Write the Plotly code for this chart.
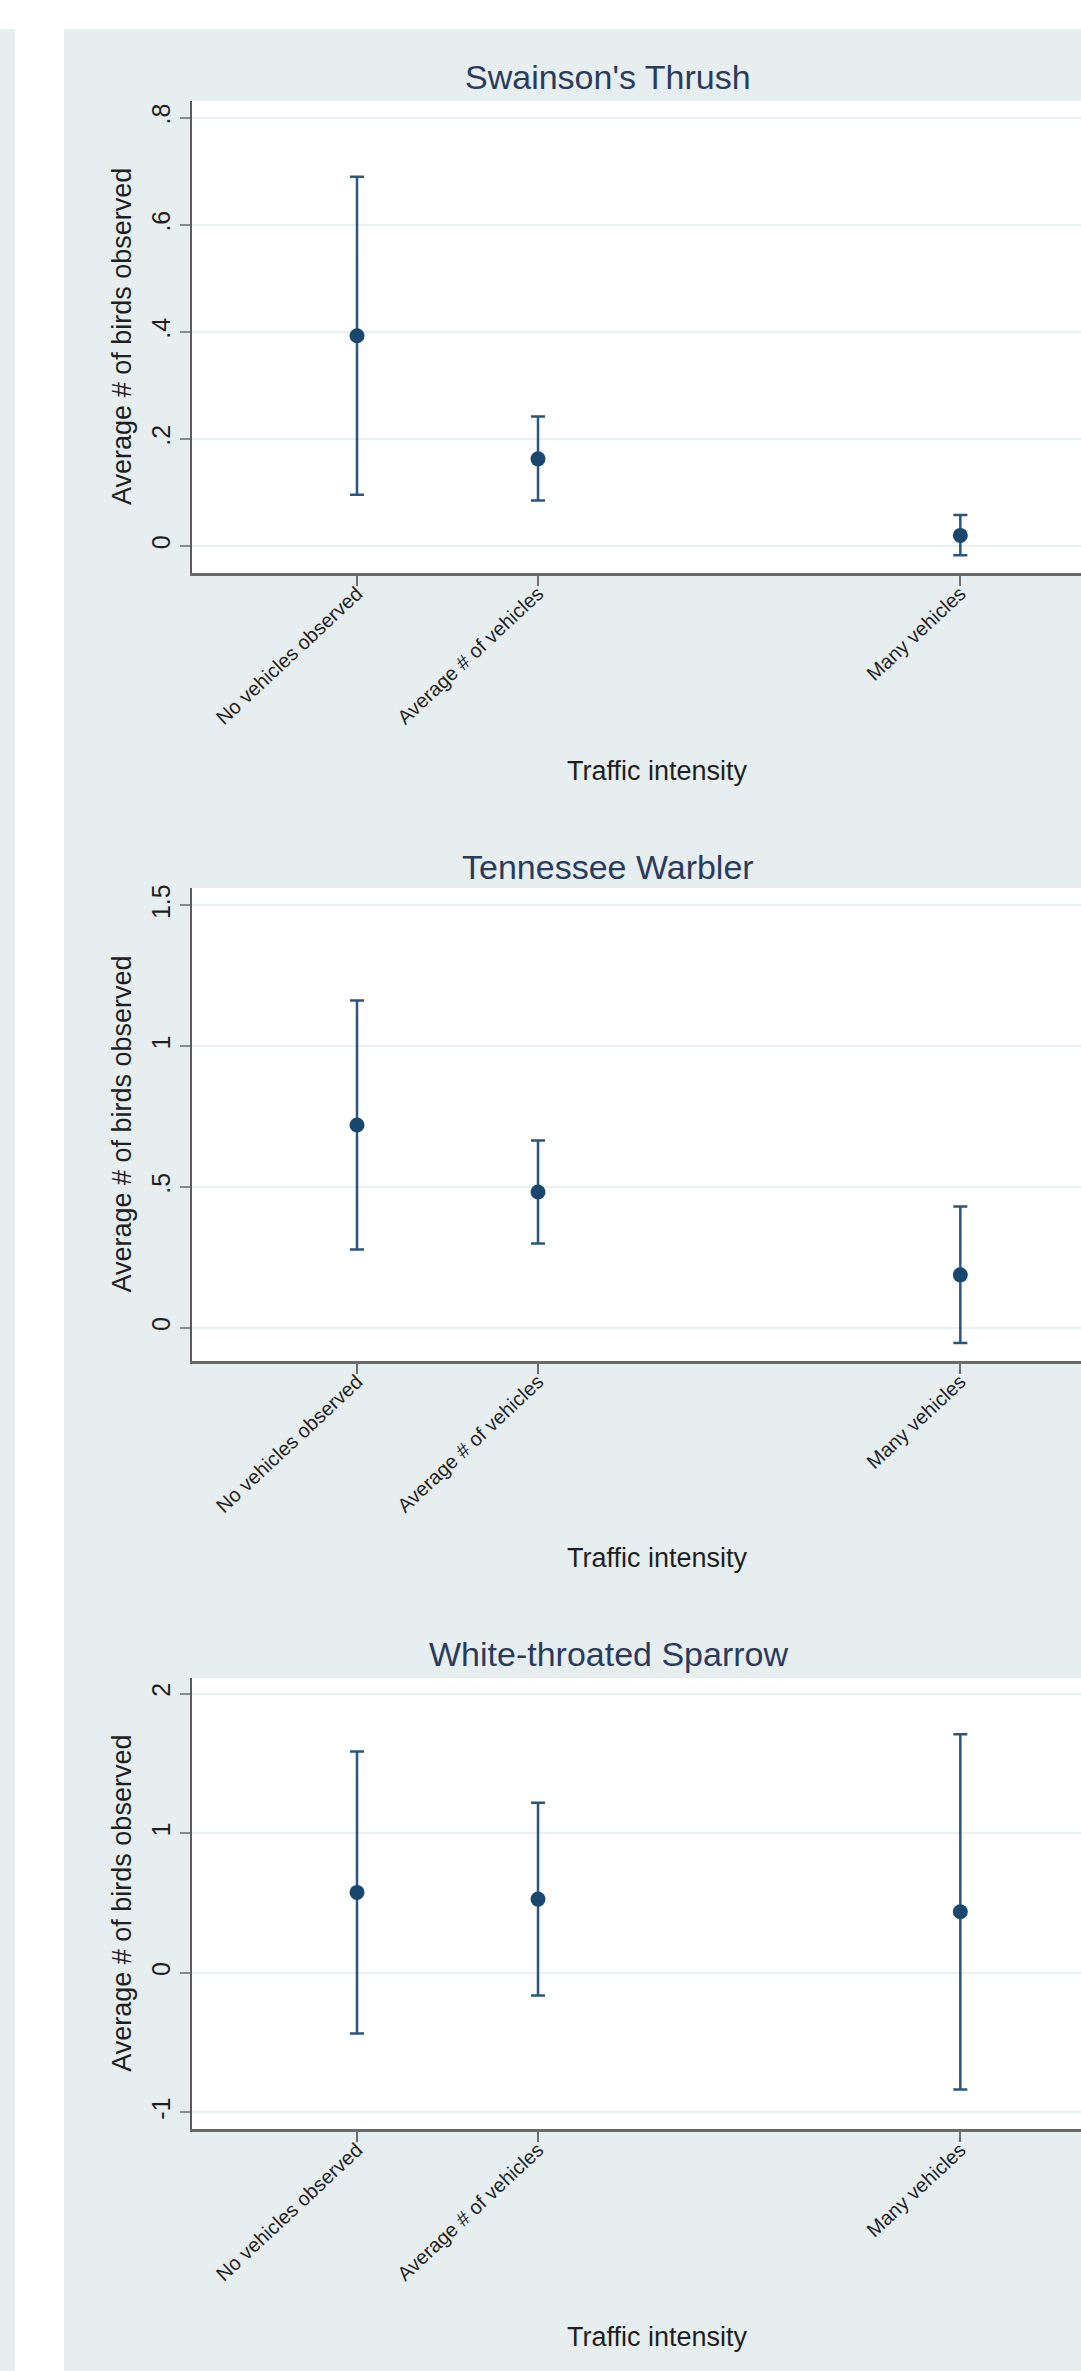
import plotly.graph_objects as go

# ---- data -------------------------------------------------------------
species = ["Swainson's Thrush", "Tennessee Warbler", "White-throated Sparrow"]

traffic_labels = ["No vehicles observed", "Average # of vehicles", "Many vehicles"]
traffic_values = [0, 3, 10]  # vehicles per count

thrush_mean = [0.393, 0.163, 0.020]
thrush_lower = [0.096, 0.085, -0.017]
thrush_upper = [0.690, 0.242, 0.058]

warbler_mean = [0.720, 0.482, 0.188]
warbler_lower = [0.278, 0.299, -0.054]
warbler_upper = [1.162, 0.665, 0.431]

sparrow_mean = [0.576, 0.528, 0.437]
sparrow_lower = [-0.434, -0.163, -0.836]
sparrow_upper = [1.586, 1.219, 1.710]

thrush_ticks = [0, 0.2, 0.4, 0.6, 0.8]
thrush_ticktext = ["0", ".2", ".4", ".6", ".8"]
warbler_ticks = [0, 0.5, 1, 1.5]
warbler_ticktext = ["0", ".5", "1", "1.5"]
sparrow_ticks = [-1, 0, 1, 2]
sparrow_ticktext = ["-1", "0", "1", "2"]

y_title = "Average # of birds observed"
x_title = "Traffic intensity"

# ---- page geometry (pixels) ------------------------------------------
W, H = 1081, 2371


def fx(px):
    return px / W


def fy(px):
    return 1 - px / H


AXIS_LEFT = 192          # y-axis line
X_RANGE = [-2.735, 12.0]  # visible part of the traffic axis

# (plot top, plot bottom, title y, x-title y, y range)
panel_geom = [
    (97, 570, 73, 768, [-0.0503, 0.8317]),
    (885.5, 1359.5, 864, 1557, [-0.1188, 1.562]),
    (1677, 2129, 1653, 2337, [-1.122, 2.111]),
]

FONT = "Liberation Sans, Arial, Helvetica, sans-serif"
NAVY = "#1a476f"
BAR = "#2a5580"
TITLE_C = "#2b3b5c"
TEXT_C = "#1f1f1f"
BG = "#e7eef0"
GRID = "#e9f0f3"

series = [
    (thrush_mean, thrush_lower, thrush_upper, thrush_ticks, thrush_ticktext),
    (warbler_mean, warbler_lower, warbler_upper, warbler_ticks, warbler_ticktext),
    (sparrow_mean, sparrow_lower, sparrow_upper, sparrow_ticks, sparrow_ticktext),
]

fig = go.Figure()
layout = dict(
    width=W,
    height=H,
    autosize=False,
    margin=dict(l=0, r=0, t=0, b=0),
    paper_bgcolor=BG,
    plot_bgcolor="white",
    showlegend=False,
    font=dict(family=FONT, color=TEXT_C),
    annotations=[],
    shapes=[
        # white margin above the graph and the white gutter on the left
        dict(type="rect", xref="paper", yref="paper", x0=-0.01, x1=1.01,
             y0=fy(25), y1=1.01, fillcolor="white", line=dict(width=0), layer="below"),
        dict(type="rect", xref="paper", yref="paper", x0=fx(15), x1=fx(64),
             y0=-0.01, y1=fy(25), fillcolor="white", line=dict(width=0), layer="below"),
    ],
)

for i, (name, (mean, lo, hi, tv, tt), geom) in enumerate(zip(species, series, panel_geom)):
    top, bottom, title_y, xt_y, yr = geom
    n = "" if i == 0 else str(i + 1)
    xa, ya = "x" + n, "y" + n

    fig.add_trace(go.Scatter(
        x=traffic_values,
        y=mean,
        mode="markers",
        marker=dict(color=NAVY, size=15),
        error_y=dict(
            type="data",
            symmetric=False,
            array=[h - m for h, m in zip(hi, mean)],
            arrayminus=[m - l for m, l in zip(mean, lo)],
            color=BAR,
            thickness=2.5,
            width=7,
        ),
        xaxis=xa,
        yaxis=ya,
        hoverinfo="skip",
    ))

    layout["xaxis" + n] = dict(
        domain=[fx(AXIS_LEFT), 1],
        range=X_RANGE,
        anchor=ya,
        tickmode="array",
        tickvals=traffic_values,
        ticktext=traffic_labels,
        tickangle=-43,
        ticks="outside",
        ticklen=10,
        tickwidth=1.5,
        tickcolor="#6e6e6e",
        tickfont=dict(size=20, color=TEXT_C),
        ticklabelstandoff=-12,
        showgrid=False,
        zeroline=False,
        showline=True,
        linecolor="#6a6a6a",
        linewidth=3,
    )
    layout["yaxis" + n] = dict(
        domain=[fy(bottom), fy(top)],
        range=yr,
        anchor=xa,
        tickmode="array",
        tickvals=tv,
        ticktext=tt,
        tickangle=-90,
        ticks="outside",
        ticklen=10,
        tickwidth=1.5,
        tickcolor="#8a8a8a",
        tickfont=dict(size=25, color=TEXT_C),
        showgrid=True,
        gridcolor=GRID,
        gridwidth=2,
        zeroline=False,
        showline=True,
        linecolor="#5a5a5a",
        linewidth=2,
    )

    layout["annotations"] += [
        dict(text=name, xref="paper", yref="paper", x=fx(608), y=fy(title_y),
             xanchor="center", yanchor="middle", showarrow=False,
             font=dict(size=34, color=TITLE_C)),
        dict(text=x_title, xref="paper", yref="paper", x=fx(657), y=fy(xt_y),
             xanchor="center", yanchor="middle", showarrow=False,
             font=dict(size=27, color=TEXT_C)),
        dict(text=y_title, xref="paper", yref="paper", x=fx(122),
             y=fy((top + bottom) / 2), textangle=-90,
             xanchor="center", yanchor="middle", showarrow=False,
             font=dict(size=27, color=TEXT_C)),
    ]

fig.update_layout(**layout)
fig.write_html("out.html")
